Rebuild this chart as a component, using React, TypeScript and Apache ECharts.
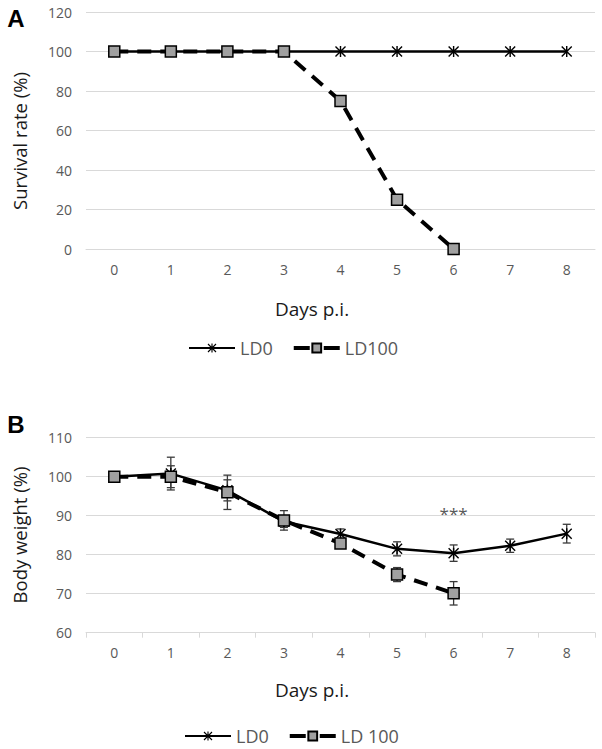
import React, { useEffect, useRef } from "react";
import * as echarts from "echarts";

const days = ["0", "1", "2", "3", "4", "5", "6", "7", "8"];
const survivalLD0 = [100, 100, 100, 100, 100, 100, 100, 100, 100];
const survivalLD100 = [100, 100, 100, 100, 75, 25, 0];
const weightLD0 = [100, 100.8, 96.5, 88.5, 85.3, 81.5, 80.4, 82.3, 85.4];
const weightLD0Err = [0, 4.2, 2.7, 1.5, 1.3, 1.8, 2.1, 1.7, 2.4];
const weightLD100 = [100, 100, 96, 88.8, 82.9, 74.9, 70.1];
const weightLD100Err = [0, 2.8, 4.4, 2.5, 1.0, 1.8, 3.0];
const survivalTicks = { min: 0, max: 120, interval: 20 };
const weightTicks = { min: 60, max: 110, interval: 10 };
const significance = { day: 6, value: 90.6, text: "***" };

const FONT = "'Open Sans', 'Noto Sans', sans-serif";
const STAR =
  "path://M4.35,0 L5.65,0 L5.65,10 L4.35,10 Z M0,0.9 L0.9,0 L10,9.1 L9.1,10 Z M9.1,0 L10,0.9 L0.9,10 L0,9.1 Z";

function errorData(vals: number[], errs: number[]) {
  const out: number[][] = [];
  vals.forEach((v, i) => {
    if (errs[i] > 0) out.push([i, v - errs[i], v + errs[i]]);
  });
  return out;
}

function errorSeries(vals: number[], errs: number[], z: number) {
  return {
    type: "custom",
    data: errorData(vals, errs),
    z,
    silent: true,
    renderItem: (params: any, api: any) => {
      const x = api.value(0);
      const lo = api.coord([x, api.value(1)]);
      const hi = api.coord([x, api.value(2)]);
      const w = 4;
      const style = { stroke: "#3a3a3a", lineWidth: 1.3 };
      return {
        type: "group",
        children: [
          { type: "line", shape: { x1: hi[0], y1: hi[1], x2: lo[0], y2: lo[1] }, style },
          { type: "line", shape: { x1: hi[0] - w, y1: hi[1], x2: hi[0] + w, y2: hi[1] }, style },
          { type: "line", shape: { x1: lo[0] - w, y1: lo[1], x2: lo[0] + w, y2: lo[1] }, style },
        ],
      };
    },
  };
}

function baseOption(opts: {
  gridTop: number;
  gridHeight: number;
  ticks: { min: number; max: number; interval: number };
  axisTicks: boolean;
  letter: string;
  letterY: number;
  yTitle: string;
  yTitleY: number;
  xTitleY: number;
  legendTop: number;
  legendLeft: number;
  names: [string, string];
}) {
  return {
    animation: false,
    backgroundColor: "#ffffff",
    grid: { left: 86, width: 509, top: opts.gridTop, height: opts.gridHeight },
    xAxis: {
      type: "category",
      data: days,
      boundaryGap: true,
      axisLine: { show: true, lineStyle: { color: "#d9d9d9", width: 1 } },
      axisTick: { show: opts.axisTicks, length: 5, lineStyle: { color: "#d9d9d9" } },
      axisLabel: { color: "#595959", fontSize: 14, fontFamily: FONT, margin: 13 },
    },
    yAxis: {
      type: "value",
      min: opts.ticks.min,
      max: opts.ticks.max,
      interval: opts.ticks.interval,
      axisLine: { show: false },
      axisTick: { show: false },
      axisLabel: { color: "#595959", fontSize: 14, fontFamily: FONT, margin: 14 },
      splitLine: { lineStyle: { color: "#d9d9d9", width: 1 } },
    },
    legend: {
      top: opts.legendTop,
      left: opts.legendLeft,
      padding: 0,
      itemWidth: 46,
      itemHeight: 11,
      itemGap: 19,
      textStyle: { color: "#595959", fontSize: 18, fontFamily: FONT },
      data: [
        { name: opts.names[0] },
        { name: opts.names[1], lineStyle: { type: [16, 14], width: 4 } },
      ],
    },
    graphic: [
      {
        type: "text",
        x: 16,
        y: opts.letterY,
        style: {
          text: opts.letter,
          fontSize: 24,
          fontWeight: "bold",
          fontFamily: "'Liberation Sans', Arial, sans-serif",
          fill: "#000000",
          textAlign: "center",
          textVerticalAlign: "middle",
        },
      },
      {
        type: "text",
        x: 19,
        y: opts.yTitleY,
        rotation: Math.PI / 2,
        style: {
          text: opts.yTitle,
          fontSize: 18.5,
          fontFamily: FONT,
          fill: "#1a1a1a",
          textAlign: "center",
          textVerticalAlign: "middle",
        },
      },
      {
        type: "text",
        x: 312,
        y: opts.xTitleY,
        style: {
          text: "Days p.i.",
          fontSize: 19,
          fontFamily: FONT,
          fill: "#1a1a1a",
          textAlign: "center",
          textVerticalAlign: "middle",
        },
      },
    ],
  };
}

function lineSeries(name: string, data: number[], dashed: boolean, z: number, extra: any = {}) {
  return {
    name,
    type: "line",
    data,
    z,
    symbol: dashed ? "rect" : STAR,
    symbolSize: dashed ? 11 : 11,
    showSymbol: true,
    lineStyle: dashed
      ? { color: "#000000", width: 4, type: [14, 9] }
      : { color: "#000000", width: 2.5 },
    itemStyle: dashed
      ? { color: "#a0a0a0", borderColor: "#000000", borderWidth: 1.5 }
      : { color: "#000000", borderWidth: 0 },
    ...extra,
  };
}

function Chart({ option, height }: { option: any; height: number }) {
  const ref = useRef<HTMLDivElement>(null);
  useEffect(() => {
    if (!ref.current) return;
    const chart = echarts.init(ref.current, undefined, { renderer: "svg" });
    chart.setOption(option);
    return () => chart.dispose();
  }, [option]);
  return <div ref={ref} style={{ width: 602, height }} />;
}

const optionA = {
  ...baseOption({
    gridTop: 12,
    gridHeight: 237,
    ticks: survivalTicks,
    axisTicks: false,
    letter: "A",
    letterY: 18,
    yTitle: "Survival rate (%)",
    yTitleY: 141,
    xTitleY: 309,
    legendTop: 339,
    legendLeft: 188,
    names: ["LD0", "LD100"],
  }),
  series: [
    lineSeries("LD0", survivalLD0, false, 3),
    lineSeries("LD100", survivalLD100, true, 4),
  ],
};

const optionB = {
  ...baseOption({
    gridTop: 62.7,
    gridHeight: 195,
    ticks: weightTicks,
    axisTicks: true,
    letter: "B",
    letterY: 49,
    yTitle: "Body weight (%)",
    yTitleY: 160,
    xTitleY: 315,
    legendTop: 352,
    legendLeft: 184,
    names: ["LD0", "LD 100"],
  }),
  series: [
    errorSeries(weightLD0, weightLD0Err, 2),
    errorSeries(weightLD100, weightLD100Err, 2),
    lineSeries("LD0", weightLD0, false, 3, {
      markPoint: {
        symbol: "circle",
        symbolSize: 0,
        data: [{ coord: [significance.day, significance.value] }],
        label: {
          show: true,
          position: "inside",
          formatter: significance.text,
          color: "#595959",
          fontSize: 17,
          fontFamily: FONT,
        },
      },
    }),
    lineSeries("LD 100", weightLD100, true, 4),
  ],
};

export default function App() {
  return (
    <div style={{ position: "fixed", left: 0, top: 0, width: 602, height: 749, background: "#fff" }}>
      <Chart option={optionA} height={375} />
      <Chart option={optionB} height={374} />
    </div>
  );
}
